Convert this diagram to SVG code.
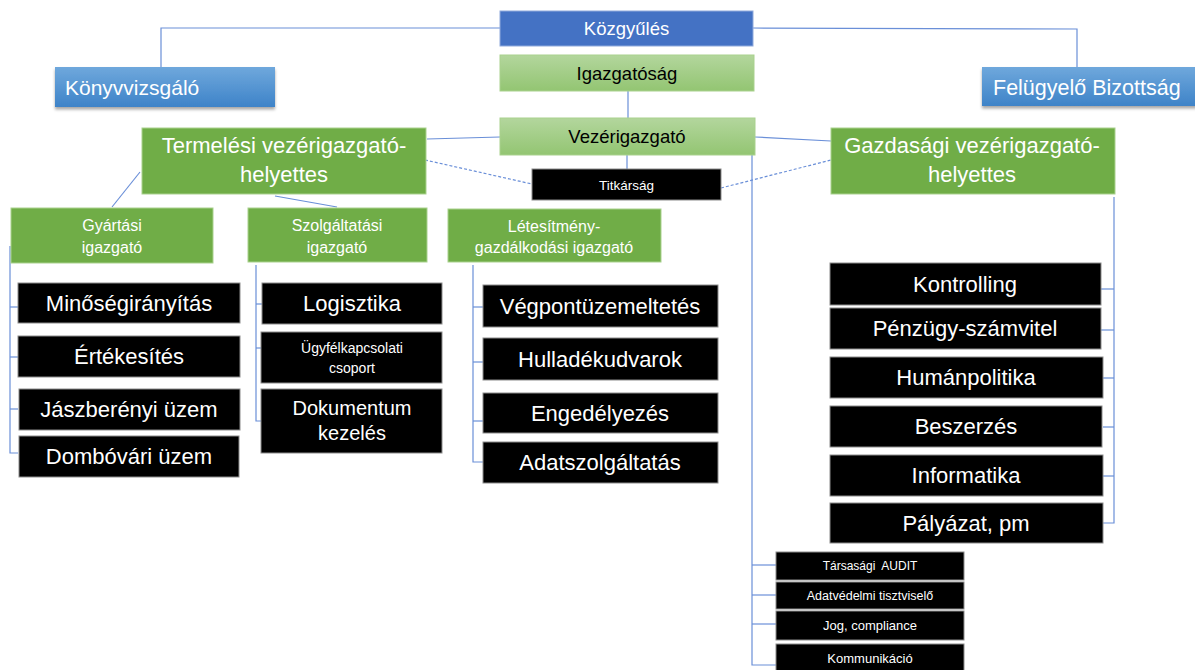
<svg xmlns="http://www.w3.org/2000/svg" width="1195" height="670" viewBox="0 0 1195 670">
<defs>
<linearGradient id="gGreen" x1="0" y1="0" x2="0" y2="1"><stop offset="0" stop-color="#B3D69D"/><stop offset="1" stop-color="#93C572"/></linearGradient>
<linearGradient id="gBlue" x1="0" y1="0" x2="0" y2="1"><stop offset="0" stop-color="#6FA8DC"/><stop offset="1" stop-color="#3E83C8"/></linearGradient>
<filter id="sh" x="-10%" y="-20%" width="120%" height="160%"><feDropShadow dx="0" dy="2.5" stdDeviation="1.5" flood-color="#000" flood-opacity="0.35"/></filter>
<style>
text{font-family:"Liberation Sans",Arial,sans-serif;text-anchor:middle}
.w{fill:#fff}
.k{fill:#000}
.blk{fill:#000;stroke:#8c8c8c;stroke-width:1}
.grn{fill:#70AD47;stroke:#A9D18E;stroke-width:1}
.lgr{fill:url(#gGreen);stroke:#A9D18E;stroke-width:1}
.blu{fill:url(#gBlue);filter:url(#sh)}
.ln{fill:none;stroke:#6A8FD8;stroke-width:1.2}
.dash{fill:none;stroke:#6A8FD8;stroke-width:1.2;stroke-dasharray:3 2}
.t22{font-size:22px}
.t21{font-size:21px}
.t16{font-size:16px}
.t13{font-size:13px}
</style>
</defs>
<rect width="1195" height="670" fill="#fff"/>
<g id="connectors">
<polyline class="ln" points="500,28 161,28 161,67"/>
<polyline class="ln" points="753,28 1077,29 1077,67"/>
<line class="ln" x1="628" y1="91" x2="628" y2="118"/>
<line class="ln" x1="627" y1="155" x2="627" y2="169"/>
<line class="ln" x1="500" y1="137" x2="427" y2="139"/>
<line class="ln" x1="755" y1="137" x2="831" y2="141"/>
<line class="dash" x1="425" y1="160" x2="532" y2="184"/>
<line class="dash" x1="721" y1="188" x2="831" y2="160"/>
<line class="ln" x1="140" y1="172" x2="112" y2="207"/>
<line class="ln" x1="275" y1="196" x2="337" y2="207"/>
<polyline class="ln" points="10,246 10,453 18,453"/>
<line class="ln" x1="10" y1="307" x2="18" y2="307"/>
<line class="ln" x1="10" y1="357" x2="18" y2="357"/>
<line class="ln" x1="10" y1="409" x2="18" y2="409"/>
<polyline class="ln" points="256,265 256,421 262,421"/>
<line class="ln" x1="256" y1="304" x2="262" y2="304"/>
<line class="ln" x1="256" y1="348" x2="262" y2="348"/>
<polyline class="ln" points="473,265 473,462 483,462"/>
<line class="ln" x1="473" y1="307" x2="483" y2="307"/>
<line class="ln" x1="473" y1="362" x2="483" y2="362"/>
<line class="ln" x1="473" y1="421" x2="483" y2="421"/>
<polyline class="ln" points="752,155 752,665 776,665"/>
<line class="ln" x1="752" y1="565" x2="776" y2="565"/>
<line class="ln" x1="752" y1="595" x2="776" y2="595"/>
<line class="ln" x1="752" y1="624" x2="776" y2="624"/>
<polyline class="ln" points="1114,197 1114,523 1103,523"/>
<line class="ln" x1="1101" y1="289" x2="1114" y2="289"/>
<line class="ln" x1="1101" y1="330" x2="1114" y2="330"/>
<line class="ln" x1="1103" y1="378" x2="1114" y2="378"/>
<line class="ln" x1="1103" y1="427" x2="1114" y2="427"/>
<line class="ln" x1="1103" y1="476" x2="1114" y2="476"/>
</g>
<g id="kozgyules"><rect x="500" y="11" width="253" height="35" fill="#4472C4" stroke="#8FAADC" stroke-width="1"/><text class="w" x="626.5" y="35" font-size="18.5">Közgyűlés</text></g>
<g id="igazgatosag"><rect class="lgr" x="500" y="55" width="254" height="36"/><text class="k" x="627" y="80" font-size="18.5">Igazgatóság</text></g>
<g id="vezerigazgato"><rect class="lgr" x="500" y="118" width="255" height="37"/><text class="k" x="627" y="143" font-size="18.5">Vezérigazgató</text></g>
<g id="titkarsag"><rect class="blk" x="532" y="169" width="189" height="31"/><text class="w" x="626.5" y="190" font-size="13.5">Titkárság</text></g>
<g id="konyvvizsgalo"><rect class="blu" x="55" y="67" width="220" height="40"/><text class="w t21" x="65" y="95" style="text-anchor:start">Könyvvizsgáló</text></g>
<g id="felugyelo"><rect class="blu" x="982" y="67" width="215" height="39"/><text class="w" x="993" y="95" font-size="21.5" style="text-anchor:start">Felügyelő Bizottság</text></g>
<g id="termelesi"><rect class="grn" x="142" y="128" width="284" height="66"/><text class="w t22" x="284" y="153">Termelési vezérigazgató-</text><text class="w t22" x="284" y="182">helyettes</text></g>
<g id="gazdasagi"><rect class="grn" x="831" y="128" width="284" height="66"/><text class="w t22" x="972" y="153">Gazdasági vezérigazgató-</text><text class="w t22" x="972" y="182">helyettes</text></g>
<g id="gyartasi"><rect class="grn" x="11" y="208" width="202" height="55"/><text class="w t16" x="112" y="231">Gyártási</text><text class="w t16" x="112" y="253">igazgató</text></g>
<g id="szolgaltatasi"><rect class="grn" x="248" y="208" width="179" height="54"/><text class="w t16" x="337" y="231">Szolgáltatási</text><text class="w t16" x="337" y="253">igazgató</text></g>
<g id="letesitmeny"><rect class="grn" x="448" y="209" width="213" height="53"/><text class="w t16" x="554" y="232">Létesítmény-</text><text class="w t16" x="554" y="253">gazdálkodási igazgató</text></g>
<g id="minoseg"><rect class="blk" x="18" y="283" width="222" height="40"/><text class="w t22" x="129" y="311">Minőségirányítás</text></g>
<g id="ertekesites"><rect class="blk" x="18" y="336" width="222" height="41"/><text class="w t22" x="129" y="364">Értékesítés</text></g>
<g id="jaszbereny"><rect class="blk" x="19" y="389" width="221" height="41"/><text class="w t22" x="129" y="417">Jászberényi üzem</text></g>
<g id="dombovar"><rect class="blk" x="19" y="436" width="220" height="41"/><text class="w t22" x="129" y="464">Dombóvári üzem</text></g>
<g id="logisztika"><rect class="blk" x="262" y="283" width="180" height="41"/><text class="w t22" x="352" y="311">Logisztika</text></g>
<g id="ugyfel"><rect class="blk" x="261" y="332" width="181" height="51"/><text class="w" x="352" y="353" font-size="14">Ügyfélkapcsolati</text><text class="w" x="352" y="373" font-size="14">csoport</text></g>
<g id="dokumentum"><rect class="blk" x="261" y="389" width="181" height="64"/><text class="w" x="352" y="415" font-size="20">Dokumentum</text><text class="w" x="352" y="440" font-size="20">kezelés</text></g>
<g id="vegpont"><rect class="blk" x="483" y="285" width="235" height="42"/><text class="w t22" x="600" y="314">Végpontüzemeltetés</text></g>
<g id="hulladek"><rect class="blk" x="483" y="338" width="235" height="42"/><text class="w t22" x="600" y="367">Hulladékudvarok</text></g>
<g id="engedely"><rect class="blk" x="483" y="393" width="235" height="40"/><text class="w t22" x="600" y="421">Engedélyezés</text></g>
<g id="adatszolg"><rect class="blk" x="483" y="442" width="235" height="41"/><text class="w t22" x="600" y="470">Adatszolgáltatás</text></g>
<g id="kontrolling"><rect class="blk" x="830" y="263" width="271" height="42"/><text class="w t22" x="965" y="292">Kontrolling</text></g>
<g id="penzugy"><rect class="blk" x="830" y="308" width="271" height="41"/><text class="w t22" x="965" y="336">Pénzügy-számvitel</text></g>
<g id="human"><rect class="blk" x="830" y="357" width="273" height="41"/><text class="w t22" x="966" y="385">Humánpolitika</text></g>
<g id="beszerzes"><rect class="blk" x="830" y="406" width="272" height="41"/><text class="w t22" x="966" y="434">Beszerzés</text></g>
<g id="informatika"><rect class="blk" x="830" y="455" width="273" height="41"/><text class="w t22" x="966" y="483">Informatika</text></g>
<g id="palyazat"><rect class="blk" x="830" y="503" width="273" height="40"/><text class="w t22" x="966" y="531">Pályázat, pm</text></g>
<g id="audit"><rect class="blk" x="776" y="552" width="188" height="28"/><text class="w" x="870" y="570" font-size="12" xml:space="preserve">Társasági  AUDIT</text></g>
<g id="adatvedelmi"><rect class="blk" x="776" y="582" width="188" height="27"/><text class="w" x="870" y="600" font-size="12.5">Adatvédelmi tisztviselő</text></g>
<g id="jog"><rect class="blk" x="776" y="611" width="188" height="29"/><text class="w t13" x="870" y="630">Jog, compliance</text></g>
<g id="kommunikacio"><rect class="blk" x="776" y="644" width="188" height="30"/><text class="w t13" x="870" y="663">Kommunikáció</text></g>
</svg>
